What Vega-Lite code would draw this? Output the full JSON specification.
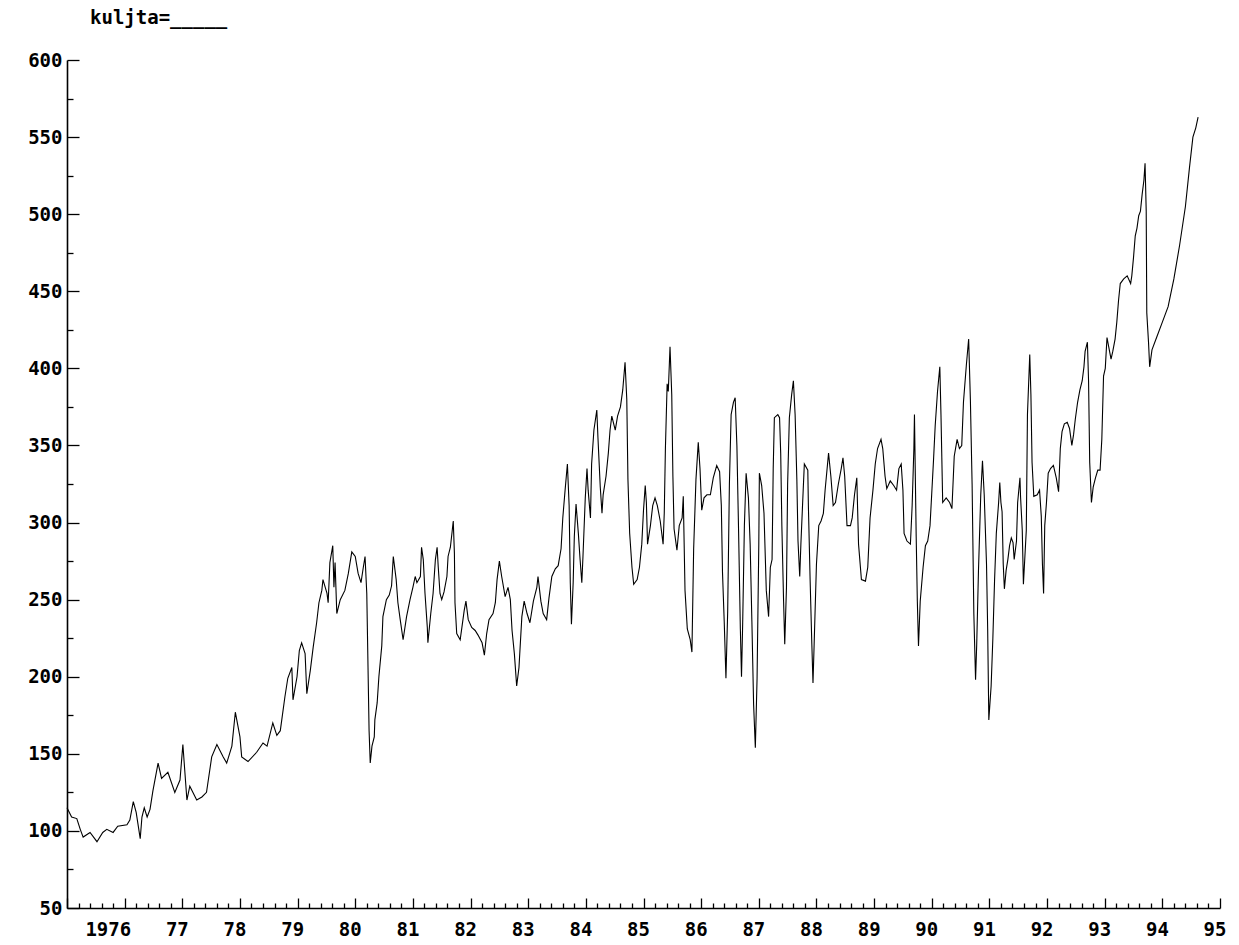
{
"$schema": "https://vega.github.io/schema/vega-lite/v6.json",
"width": 1153, "height": 848,
"autosize": "none",
"padding": {"left": 67, "top": 60, "right": 19, "bottom": 37},
"background": "white",
"title": {"text": "kuljta=_____", "anchor": "start", "frame": "group", "dx": 23, "offset": 23, "font": "DejaVu Sans Mono", "fontSize": 19, "fontWeight": "bold", "color": "black"},
"config": {"view": {"stroke": null}},
"data": {"values": [
{"year":1975.00,"value":115},{"year":1975.08,"value":109},{"year":1975.17,"value":108},{"year":1975.23,"value":101},{"year":1975.28,"value":96},{"year":1975.40,"value":99},{"year":1975.52,"value":93},{"year":1975.62,"value":99},{"year":1975.69,"value":101},{"year":1975.80,"value":99},{"year":1975.88,"value":103},
{"year":1976.04,"value":104},{"year":1976.09,"value":107},{"year":1976.15,"value":119},{"year":1976.20,"value":112},{"year":1976.27,"value":95},{"year":1976.30,"value":109},{"year":1976.34,"value":115},{"year":1976.39,"value":109},{"year":1976.44,"value":114},{"year":1976.49,"value":126},{"year":1976.58,"value":144},{"year":1976.64,"value":134},{"year":1976.75,"value":138},{"year":1976.87,"value":125},{"year":1976.96,"value":133},
{"year":1977.01,"value":156},{"year":1977.08,"value":120},{"year":1977.13,"value":129},{"year":1977.25,"value":120},{"year":1977.34,"value":122},{"year":1977.42,"value":125},{"year":1977.51,"value":148},{"year":1977.60,"value":156},{"year":1977.71,"value":148},{"year":1977.77,"value":144},{"year":1977.86,"value":155},{"year":1977.92,"value":177},
{"year":1978.00,"value":161},{"year":1978.03,"value":148},{"year":1978.14,"value":145},{"year":1978.29,"value":151},{"year":1978.40,"value":157},{"year":1978.47,"value":155},{"year":1978.57,"value":170},{"year":1978.64,"value":162},{"year":1978.70,"value":165},{"year":1978.78,"value":187},{"year":1978.83,"value":199},{"year":1978.90,"value":206},{"year":1978.92,"value":185},{"year":1978.99,"value":200},
{"year":1979.03,"value":217},{"year":1979.07,"value":222},{"year":1979.13,"value":215},{"year":1979.16,"value":189},{"year":1979.22,"value":204},{"year":1979.27,"value":219},{"year":1979.33,"value":235},{"year":1979.37,"value":248},{"year":1979.42,"value":256},{"year":1979.44,"value":263},{"year":1979.51,"value":254},{"year":1979.53,"value":248},{"year":1979.56,"value":274},{"year":1979.61,"value":285},{"year":1979.63,"value":258},{"year":1979.65,"value":274},{"year":1979.68,"value":241},{"year":1979.74,"value":250},{"year":1979.82,"value":256},{"year":1979.88,"value":267},{"year":1979.94,"value":281},
{"year":1980.00,"value":278},{"year":1980.05,"value":267},{"year":1980.10,"value":261},{"year":1980.14,"value":271},{"year":1980.17,"value":278},{"year":1980.20,"value":254},{"year":1980.24,"value":165},{"year":1980.26,"value":144},{"year":1980.29,"value":155},{"year":1980.33,"value":161},{"year":1980.34,"value":172},{"year":1980.38,"value":183},{"year":1980.41,"value":200},{"year":1980.46,"value":220},{"year":1980.48,"value":239},{"year":1980.54,"value":250},{"year":1980.59,"value":253},{"year":1980.63,"value":259},{"year":1980.66,"value":278},{"year":1980.71,"value":263},{"year":1980.74,"value":248},{"year":1980.78,"value":237},{"year":1980.83,"value":224},{"year":1980.89,"value":239},{"year":1980.95,"value":250},
{"year":1981.00,"value":258},{"year":1981.04,"value":265},{"year":1981.07,"value":261},{"year":1981.13,"value":265},{"year":1981.15,"value":284},{"year":1981.18,"value":276},{"year":1981.21,"value":254},{"year":1981.25,"value":232},{"year":1981.26,"value":222},{"year":1981.31,"value":241},{"year":1981.35,"value":254},{"year":1981.39,"value":276},{"year":1981.42,"value":284},{"year":1981.44,"value":271},{"year":1981.47,"value":254},{"year":1981.50,"value":250},{"year":1981.54,"value":255},{"year":1981.59,"value":265},{"year":1981.61,"value":278},{"year":1981.65,"value":284},{"year":1981.68,"value":294},{"year":1981.70,"value":301},{"year":1981.72,"value":280},{"year":1981.73,"value":248},{"year":1981.76,"value":228},{"year":1981.82,"value":224},{"year":1981.85,"value":232},{"year":1981.89,"value":243},{"year":1981.92,"value":249},{"year":1981.96,"value":237},
{"year":1982.02,"value":232},{"year":1982.08,"value":230},{"year":1982.13,"value":227},{"year":1982.20,"value":222},{"year":1982.24,"value":214},{"year":1982.28,"value":228},{"year":1982.32,"value":237},{"year":1982.39,"value":241},{"year":1982.43,"value":248},{"year":1982.46,"value":263},{"year":1982.50,"value":275},{"year":1982.54,"value":265},{"year":1982.60,"value":252},{"year":1982.65,"value":258},{"year":1982.69,"value":250},{"year":1982.72,"value":230},{"year":1982.76,"value":215},{"year":1982.80,"value":194},{"year":1982.84,"value":206},{"year":1982.89,"value":239},{"year":1982.93,"value":249},{"year":1982.98,"value":241},
{"year":1983.03,"value":235},{"year":1983.09,"value":249},{"year":1983.15,"value":258},{"year":1983.17,"value":265},{"year":1983.22,"value":249},{"year":1983.26,"value":241},{"year":1983.32,"value":237},{"year":1983.36,"value":251},{"year":1983.41,"value":265},{"year":1983.47,"value":270},{"year":1983.52,"value":272},{"year":1983.57,"value":283},{"year":1983.60,"value":303},{"year":1983.64,"value":321},{"year":1983.68,"value":338},{"year":1983.71,"value":311},{"year":1983.73,"value":261},{"year":1983.75,"value":234},{"year":1983.78,"value":261},{"year":1983.80,"value":291},{"year":1983.83,"value":312},{"year":1983.87,"value":293},{"year":1983.90,"value":276},{"year":1983.93,"value":261},{"year":1983.95,"value":278},{"year":1983.99,"value":316},
{"year":1984.02,"value":335},{"year":1984.04,"value":321},{"year":1984.08,"value":303},{"year":1984.10,"value":338},{"year":1984.14,"value":360},{"year":1984.19,"value":373},{"year":1984.21,"value":355},{"year":1984.25,"value":323},{"year":1984.28,"value":306},{"year":1984.30,"value":318},{"year":1984.35,"value":330},{"year":1984.39,"value":345},{"year":1984.42,"value":360},{"year":1984.45,"value":369},{"year":1984.51,"value":360},{"year":1984.55,"value":369},{"year":1984.60,"value":375},{"year":1984.64,"value":386},{"year":1984.68,"value":404},{"year":1984.71,"value":380},{"year":1984.73,"value":328},{"year":1984.76,"value":293},{"year":1984.80,"value":271},{"year":1984.83,"value":260},{"year":1984.89,"value":263},{"year":1984.93,"value":271},{"year":1984.97,"value":286},
{"year":1985.00,"value":308},{"year":1985.03,"value":324},{"year":1985.05,"value":313},{"year":1985.07,"value":286},{"year":1985.12,"value":298},{"year":1985.16,"value":311},{"year":1985.20,"value":316},{"year":1985.24,"value":311},{"year":1985.29,"value":301},{"year":1985.34,"value":286},{"year":1985.36,"value":306},{"year":1985.38,"value":348},{"year":1985.41,"value":390},{"year":1985.43,"value":385},{"year":1985.46,"value":414},{"year":1985.49,"value":383},{"year":1985.51,"value":330},{"year":1985.53,"value":296},{"year":1985.58,"value":282},{"year":1985.62,"value":298},{"year":1985.67,"value":303},{"year":1985.69,"value":317},{"year":1985.72,"value":256},{"year":1985.76,"value":231},{"year":1985.81,"value":224},{"year":1985.84,"value":216},{"year":1985.87,"value":283},{"year":1985.91,"value":328},{"year":1985.95,"value":352},{"year":1985.98,"value":335},
{"year":1986.01,"value":308},{"year":1986.05,"value":316},{"year":1986.10,"value":318},{"year":1986.16,"value":318},{"year":1986.21,"value":329},{"year":1986.27,"value":337},{"year":1986.32,"value":333},{"year":1986.35,"value":311},{"year":1986.37,"value":268},{"year":1986.40,"value":236},{"year":1986.43,"value":199},{"year":1986.46,"value":242},{"year":1986.49,"value":325},{"year":1986.52,"value":370},{"year":1986.56,"value":378},{"year":1986.59,"value":381},{"year":1986.62,"value":350},{"year":1986.65,"value":293},{"year":1986.68,"value":231},{"year":1986.70,"value":200},{"year":1986.72,"value":234},{"year":1986.75,"value":298},{"year":1986.78,"value":332},{"year":1986.82,"value":316},{"year":1986.85,"value":286},{"year":1986.88,"value":236},{"year":1986.91,"value":182},{"year":1986.94,"value":154},{"year":1986.97,"value":199},
{"year":1987.00,"value":286},{"year":1987.01,"value":332},{"year":1987.05,"value":324},{"year":1987.09,"value":306},{"year":1987.13,"value":256},{"year":1987.17,"value":239},{"year":1987.20,"value":271},{"year":1987.23,"value":276},{"year":1987.25,"value":335},{"year":1987.27,"value":368},{"year":1987.33,"value":370},{"year":1987.36,"value":368},{"year":1987.38,"value":345},{"year":1987.40,"value":298},{"year":1987.43,"value":249},{"year":1987.45,"value":221},{"year":1987.48,"value":258},{"year":1987.50,"value":325},{"year":1987.53,"value":368},{"year":1987.57,"value":383},{"year":1987.60,"value":392},{"year":1987.63,"value":370},{"year":1987.66,"value":328},{"year":1987.68,"value":288},{"year":1987.71,"value":265},{"year":1987.73,"value":286},{"year":1987.77,"value":321},{"year":1987.79,"value":338},{"year":1987.85,"value":334},{"year":1987.86,"value":311},{"year":1987.89,"value":263},{"year":1987.92,"value":221},{"year":1987.94,"value":196},{"year":1987.96,"value":221},
{"year":1988.00,"value":273},{"year":1988.04,"value":298},{"year":1988.08,"value":301},{"year":1988.12,"value":306},{"year":1988.15,"value":321},{"year":1988.21,"value":345},{"year":1988.25,"value":330},{"year":1988.29,"value":311},{"year":1988.33,"value":313},{"year":1988.38,"value":325},{"year":1988.43,"value":335},{"year":1988.46,"value":342},{"year":1988.49,"value":330},{"year":1988.53,"value":298},{"year":1988.59,"value":298},{"year":1988.62,"value":303},{"year":1988.66,"value":318},{"year":1988.70,"value":329},{"year":1988.73,"value":286},{"year":1988.78,"value":263},{"year":1988.85,"value":262},{"year":1988.89,"value":271},{"year":1988.93,"value":303},{"year":1988.98,"value":321},
{"year":1989.02,"value":338},{"year":1989.06,"value":348},{"year":1989.12,"value":354},{"year":1989.15,"value":348},{"year":1989.19,"value":330},{"year":1989.22,"value":322},{"year":1989.28,"value":327},{"year":1989.34,"value":324},{"year":1989.39,"value":321},{"year":1989.43,"value":335},{"year":1989.47,"value":338},{"year":1989.50,"value":321},{"year":1989.52,"value":293},{"year":1989.57,"value":288},{"year":1989.63,"value":286},{"year":1989.66,"value":311},{"year":1989.69,"value":348},{"year":1989.70,"value":370},{"year":1989.73,"value":291},{"year":1989.75,"value":249},{"year":1989.77,"value":220},{"year":1989.80,"value":249},{"year":1989.85,"value":271},{"year":1989.89,"value":285},{"year":1989.93,"value":288},{"year":1989.97,"value":298},
{"year":1990.00,"value":319},{"year":1990.03,"value":340},{"year":1990.06,"value":363},{"year":1990.10,"value":385},{"year":1990.14,"value":401},{"year":1990.16,"value":370},{"year":1990.19,"value":313},{"year":1990.25,"value":316},{"year":1990.31,"value":313},{"year":1990.35,"value":309},{"year":1990.39,"value":343},{"year":1990.44,"value":354},{"year":1990.48,"value":348},{"year":1990.52,"value":350},{"year":1990.55,"value":378},{"year":1990.60,"value":402},{"year":1990.64,"value":419},{"year":1990.67,"value":380},{"year":1990.70,"value":325},{"year":1990.73,"value":241},{"year":1990.76,"value":198},{"year":1990.78,"value":221},{"year":1990.81,"value":268},{"year":1990.85,"value":318},{"year":1990.88,"value":340},{"year":1990.91,"value":318},{"year":1990.95,"value":273},{"year":1990.97,"value":231},{"year":1990.99,"value":172},
{"year":1991.03,"value":194},{"year":1991.06,"value":225},{"year":1991.09,"value":263},{"year":1991.12,"value":293},{"year":1991.16,"value":313},{"year":1991.18,"value":326},{"year":1991.20,"value":313},{"year":1991.22,"value":307},{"year":1991.24,"value":273},{"year":1991.26,"value":257},{"year":1991.29,"value":269},{"year":1991.32,"value":276},{"year":1991.35,"value":285},{"year":1991.38,"value":290},{"year":1991.41,"value":287},{"year":1991.43,"value":276},{"year":1991.47,"value":288},{"year":1991.49,"value":313},{"year":1991.53,"value":329},{"year":1991.54,"value":317},{"year":1991.57,"value":295},{"year":1991.59,"value":260},{"year":1991.64,"value":295},{"year":1991.66,"value":370},{"year":1991.70,"value":409},{"year":1991.72,"value":383},{"year":1991.74,"value":339},{"year":1991.77,"value":317},{"year":1991.83,"value":318},{"year":1991.87,"value":321},{"year":1991.90,"value":304},{"year":1991.92,"value":273},{"year":1991.94,"value":254},{"year":1991.96,"value":298},{"year":1991.99,"value":313},
{"year":1992.02,"value":332},{"year":1992.06,"value":335},{"year":1992.11,"value":337},{"year":1992.16,"value":329},{"year":1992.20,"value":320},{"year":1992.23,"value":348},{"year":1992.26,"value":359},{"year":1992.30,"value":364},{"year":1992.35,"value":365},{"year":1992.39,"value":361},{"year":1992.43,"value":350},{"year":1992.46,"value":357},{"year":1992.49,"value":367},{"year":1992.53,"value":378},{"year":1992.57,"value":386},{"year":1992.61,"value":392},{"year":1992.64,"value":401},{"year":1992.66,"value":411},{"year":1992.70,"value":417},{"year":1992.72,"value":392},{"year":1992.74,"value":339},{"year":1992.77,"value":313},{"year":1992.80,"value":323},{"year":1992.84,"value":329},{"year":1992.88,"value":334},{"year":1992.92,"value":334},{"year":1992.95,"value":354},{"year":1992.98,"value":395},
{"year":1993.01,"value":400},{"year":1993.04,"value":420},{"year":1993.07,"value":414},{"year":1993.11,"value":406},{"year":1993.14,"value":411},{"year":1993.18,"value":419},{"year":1993.21,"value":430},{"year":1993.24,"value":444},{"year":1993.27,"value":455},{"year":1993.33,"value":458},{"year":1993.39,"value":460},{"year":1993.45,"value":455},{"year":1993.47,"value":460},{"year":1993.50,"value":472},{"year":1993.53,"value":486},{"year":1993.56,"value":491},{"year":1993.59,"value":499},{"year":1993.62,"value":502},{"year":1993.65,"value":513},{"year":1993.68,"value":522},{"year":1993.70,"value":533},{"year":1993.72,"value":502},{"year":1993.73,"value":436},{"year":1993.76,"value":417},{"year":1993.78,"value":401},
{"year":1993.82,"value":412},{"year":1993.90,"value":420},{"year":1994.00,"value":430},{"year":1994.10,"value":440},{"year":1994.20,"value":458},{"year":1994.30,"value":480},{"year":1994.40,"value":505},{"year":1994.47,"value":530},{"year":1994.53,"value":550},{"year":1994.58,"value":556},{"year":1994.62,"value":563}
]},
"mark": {"type": "line", "color": "black", "strokeWidth": 1.1},
"encoding": {
"x": {"field": "year", "type": "quantitative",
 "scale": {"domain": [1975, 1995], "nice": false, "zero": false},
 "axis": {"title": null, "grid": false,
  "values": [1975,1975.2,1975.4,1975.6,1975.8,1976,1976.2,1976.4,1976.6,1976.8,1977,1977.2,1977.4,1977.6,1977.8,1978,1978.2,1978.4,1978.6,1978.8,1979,1979.2,1979.4,1979.6,1979.8,1980,1980.2,1980.4,1980.6,1980.8,1981,1981.2,1981.4,1981.6,1981.8,1982,1982.2,1982.4,1982.6,1982.8,1983,1983.2,1983.4,1983.6,1983.8,1984,1984.2,1984.4,1984.6,1984.8,1985,1985.2,1985.4,1985.6,1985.8,1986,1986.2,1986.4,1986.6,1986.8,1987,1987.2,1987.4,1987.6,1987.8,1988,1988.2,1988.4,1988.6,1988.8,1989,1989.2,1989.4,1989.6,1989.8,1990,1990.2,1990.4,1990.6,1990.8,1991,1991.2,1991.4,1991.6,1991.8,1992,1992.2,1992.4,1992.6,1992.8,1993,1993.2,1993.4,1993.6,1993.8,1994,1994.2,1994.4,1994.6,1994.8,1995],
  "tickSize": {"condition": {"test": "abs(datum.value - round(datum.value)) < 0.01", "value": -10}, "value": -5},
  "labelExpr": "(datum.value < 1975.5 || abs(datum.value - round(datum.value)) > 0.01) ? '' : (round(datum.value) == 1976 ? '1976' : substring(toString(round(datum.value)), 2, 4))",
  "labelAlign": "right", "labelOffset": 6, "labelPadding": 22,
  "labelFont": "DejaVu Sans Mono", "labelFontSize": 19, "labelFontWeight": "bold", "labelColor": "black",
  "labelOverlap": false, "labelFlush": false, "labelBound": false,
  "tickColor": "black", "tickWidth": 1.3, "domainColor": "black", "domainWidth": 1.6}},
"y": {"field": "value", "type": "quantitative",
 "scale": {"domain": [50, 600], "nice": false, "zero": false},
 "axis": {"title": null, "grid": false,
  "values": [50,75,100,125,150,175,200,225,250,275,300,325,350,375,400,425,450,475,500,525,550,575,600],
  "tickSize": {"condition": {"test": "datum.value % 50 == 0", "value": -12}, "value": -6},
  "labelExpr": "datum.value % 50 == 0 ? datum.label : ''",
  "labelPadding": 17,
  "labelFont": "DejaVu Sans Mono", "labelFontSize": 19, "labelFontWeight": "bold", "labelColor": "black",
  "labelOverlap": false, "labelFlush": false, "labelBound": false,
  "tickColor": "black", "tickWidth": 1.3, "domainColor": "black", "domainWidth": 1.6}}
}
}
